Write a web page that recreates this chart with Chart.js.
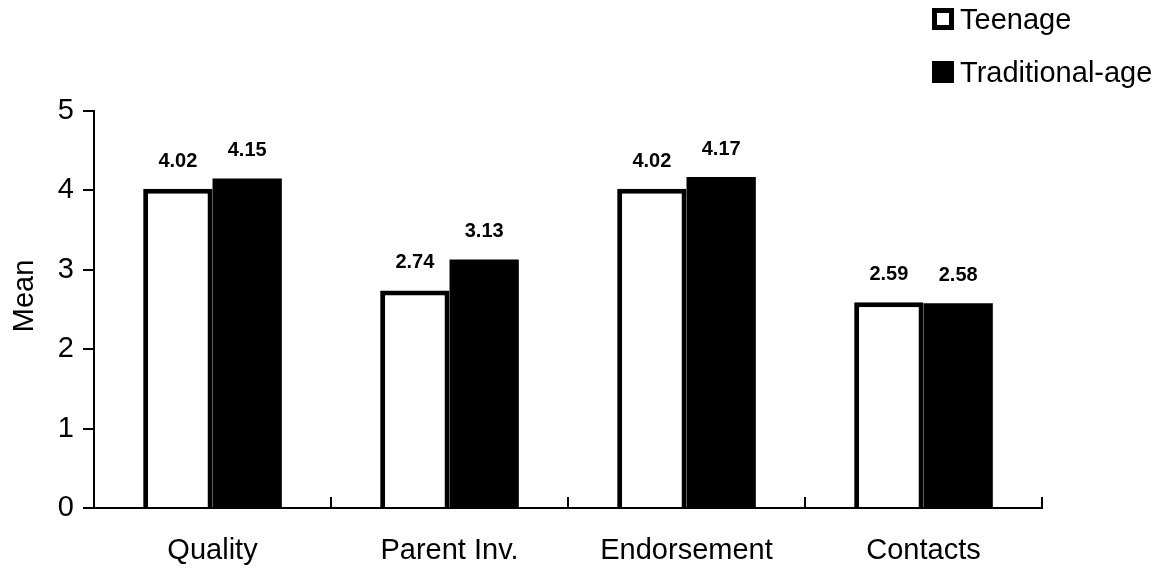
<!DOCTYPE html>
<html>
<head>
<meta charset="utf-8">
<script src="https://cdn.jsdelivr.net/npm/chart.js@4.4.1/dist/chart.umd.min.js"></script>
<style>
  html, body { margin: 0; padding: 0; background: #fff; }
  #wrap { position: relative; width: 1161px; height: 577px; }
  canvas { position: absolute; left: 0; top: 0; }
  .leg { position: absolute; left: 932px; height: 30px; display: flex; align-items: center; font: 29px Arial, "Liberation Sans", sans-serif; color: #000; white-space: nowrap; }
  .leg .box { display: inline-block; width: 22px; height: 22px; box-sizing: border-box; margin-right: 6px; }
</style>
</head>
<body>
<div id="wrap">
  <canvas id="chart" width="1161" height="577"></canvas>
  <div id="legend"></div>
</div>
<script>
// data
const categories = ['Quality', 'Parent Inv.', 'Endorsement', 'Contacts'];
const seriesNames = ['Teenage', 'Traditional-age'];
const teenage = [4.02, 2.74, 4.02, 2.59];
const traditional = [4.15, 3.13, 4.17, 2.58];
const yTicks = [0, 1, 2, 3, 4, 5];
const yTitle = 'Mean';

const FONT = 'Arial, "Liberation Sans", sans-serif';

// little upward tick marks between the categories on the x axis
const boundaryTicks = {
    id: 'boundaryTicks',
    afterDraw(chart) {
        const x = chart.scales.x;
        const ctx = chart.ctx;
        const step = (x.right - x.left) / categories.length;
        ctx.save();
        ctx.strokeStyle = '#000';
        ctx.lineWidth = 2;
        for (let i = 1; i <= categories.length; i++) {
            const px = Math.round(x.left + step * i);
            ctx.beginPath();
            ctx.moveTo(px, x.top);
            ctx.lineTo(px, x.top - 11);
            ctx.stroke();
        }
        ctx.restore();
    }
};

// y axis title, sits a bit above the middle of the axis like the original
const axisTitle = {
    id: 'axisTitle',
    afterDraw(chart) {
        const ctx = chart.ctx;
        ctx.save();
        ctx.translate(25, 296);
        ctx.rotate(-Math.PI / 2);
        ctx.font = '29px ' + FONT;
        ctx.fillStyle = '#000';
        ctx.textAlign = 'center';
        ctx.textBaseline = 'middle';
        ctx.fillText(yTitle, 0, 0);
        ctx.restore();
    }
};

// bold value labels above each bar
const valueLabels = {
    id: 'valueLabels',
    afterDatasetsDraw(chart) {
        const ctx = chart.ctx;
        ctx.save();
        ctx.font = 'bold 20px ' + FONT;
        ctx.fillStyle = '#000';
        ctx.textAlign = 'center';
        ctx.textBaseline = 'alphabetic';
        chart.data.datasets.forEach((ds, di) => {
            const meta = chart.getDatasetMeta(di);
            meta.data.forEach((bar, i) => {
                ctx.fillText(ds.data[i].toFixed(2), bar.x, bar.y - 22);
            });
        });
        ctx.restore();
    }
};

const ctx = document.getElementById('chart').getContext('2d');
const chart = new Chart(ctx, {
    type: 'bar',
    data: {
        labels: categories,
        datasets: [{
            label: seriesNames[0],
            data: teenage,
            backgroundColor: '#fff',
            borderColor: '#000',
            borderWidth: 5,
            borderSkipped: 'bottom'
        }, {
            label: seriesNames[1],
            data: traditional,
            backgroundColor: '#000',
            borderColor: '#000',
            borderWidth: 0
        }]
    },
    options: {
        responsive: false,
        animation: false,
        devicePixelRatio: 1,
        categoryPercentage: 0.585,
        barPercentage: 1.0,
        layout: { padding: { left: 0, top: 111, right: 119, bottom: 0 } },
        plugins: {
            legend: { display: false },
            tooltip: { enabled: false }
        },
        scales: {
            x: {
                grid: { display: false, drawTicks: false },
                border: { display: true, color: '#000', width: 2 },
                ticks: { color: '#000', font: { family: FONT, size: 29 }, padding: 26, maxRotation: 0 },
                afterFit(scale) { scale.height = 69; }
            },
            y: {
                min: 0,
                max: 5,
                afterBuildTicks(scale) { scale.ticks = yTicks.map(v => ({ value: v })); },
                grid: { drawOnChartArea: false, drawTicks: true, tickLength: 11, color: '#000', lineWidth: 2 },
                border: { display: true, color: '#000', width: 2 },
                ticks: { color: '#000', font: { family: FONT, size: 29 }, padding: 9 },
                afterFit(scale) { scale.width = 94; }
            }
        }
    },
    plugins: [boundaryTicks, axisTitle, valueLabels]
});

// legend stacked in the top right corner
const legend = document.getElementById('legend');
const legendTops = [4, 57];
chart.data.datasets.forEach((ds, i) => {
    const item = document.createElement('div');
    item.className = 'leg';
    item.style.top = legendTops[i] + 'px';
    const box = document.createElement('span');
    box.className = 'box';
    box.style.background = ds.backgroundColor;
    box.style.border = '5px solid #000';
    item.appendChild(box);
    item.appendChild(document.createTextNode(ds.label));
    legend.appendChild(item);
});
</script>
</body>
</html>
